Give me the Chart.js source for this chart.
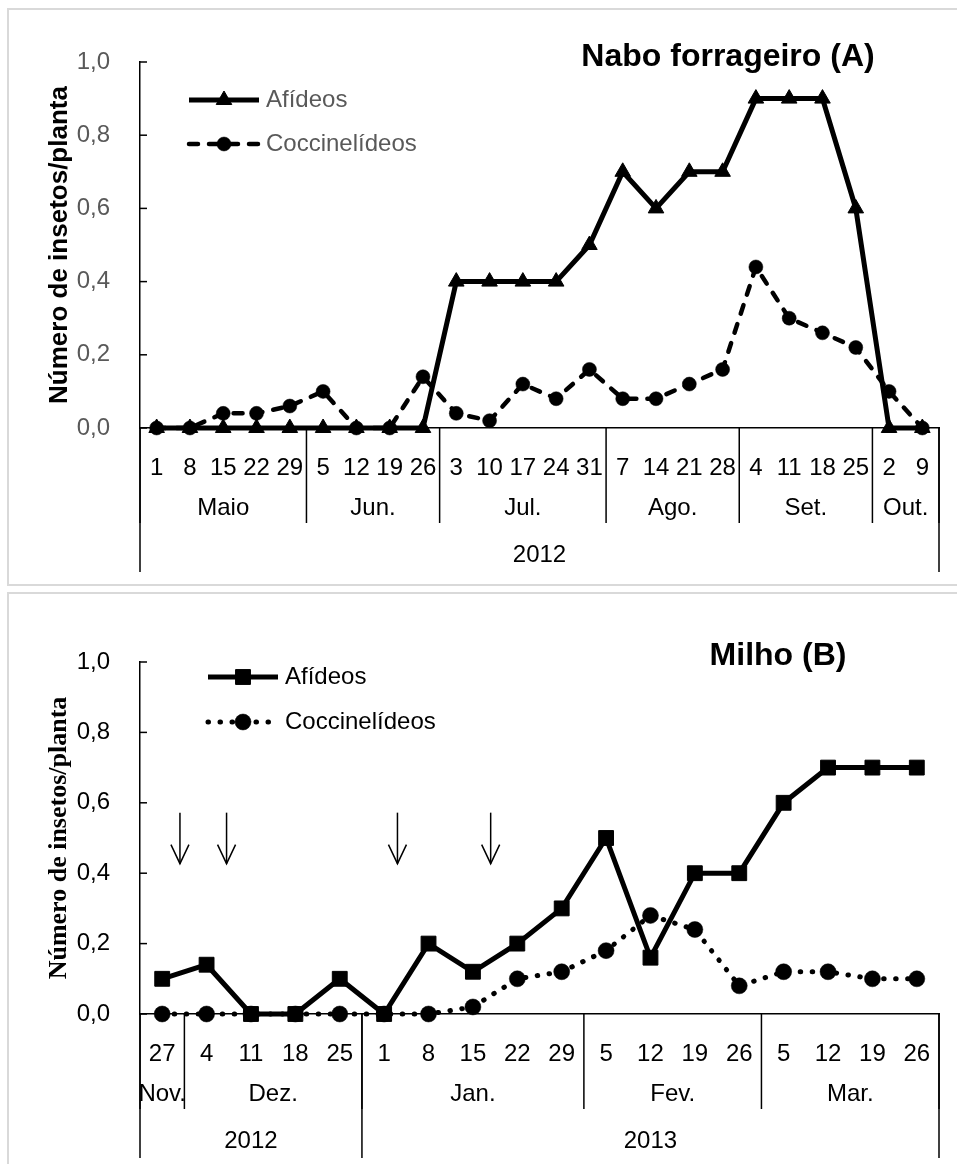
<!DOCTYPE html>
<html>
<head>
<meta charset="utf-8">
<script src="https://cdn.jsdelivr.net/npm/chart.js@4.4.1/dist/chart.umd.min.js"></script>
<style>
  html, body { margin: 0; padding: 0; background: #fff; width: 957px; height: 1164px; overflow: hidden; }
  .panel { position: absolute; border: 2px solid #d9d9d9; box-sizing: border-box; }
  #p1 { left: 7px; top: 8px; width: 1000px; height: 578px; }
  #p2 { left: 7px; top: 592px; width: 1000px; height: 620px; }
  canvas { position: absolute; left: 0; }
  #c1 { top: 0; }
  #c2 { top: 590px; }
</style>
</head>
<body>
<div class="panel" id="p1"></div>
<div class="panel" id="p2"></div>
<canvas id="c1" width="957" height="590"></canvas>
<canvas id="c2" width="957" height="574"></canvas>
<script>
// ---- Nabo forrageiro (A), 2012 ----
const diasA = ['1','8','15','22','29','5','12','19','26','3','10','17','24','31','7','14','21','28','4','11','18','25','2','9'];
const afideosA = [0,0,0,0,0,0,0,0,0,0.4,0.4,0.4,0.4,0.5,0.7,0.6,0.7,0.7,0.9,0.9,0.9,0.6,0,0];
const coccinelideosA = [0,0,0.04,0.04,0.06,0.10,0,0,0.14,0.04,0.02,0.12,0.08,0.16,0.08,0.08,0.12,0.16,0.44,0.30,0.26,0.22,0.10,0];
const mesesA = ['Maio','Jun.','Jul.','Ago.','Set.','Out.'];
const semanasPorMesA = [5,4,5,4,4,2];
const anosA = ['2012'];
const semanasPorAnoA = [24];

// ---- Milho (B), 2012/2013 ----
const diasB = ['27','4','11','18','25','1','8','15','22','29','5','12','19','26','5','12','19','26'];
const afideosB = [0.10,0.14,0,0,0.10,0,0.20,0.12,0.20,0.30,0.50,0.16,0.40,0.40,0.60,0.70,0.70,0.70];
const coccinelideosB = [0,0,0,0,0,0,0,0.02,0.10,0.12,0.18,0.28,0.24,0.08,0.12,0.12,0.10,0.10];
const mesesB = ['Nov.','Dez.','Jan.','Fev.','Mar.'];
const semanasPorMesB = [1,4,5,4,4];
const anosB = ['2012','2013'];
const semanasPorAnoB = [5,13];
// application dates, as positions along the week axis (between sampling weeks)
const aplicacoesB = [0.4, 1.45, 5.3, 7.4];

const yTickLabels = ['0,0','0,2','0,4','0,6','0,8','1,0'];

const SANS = '"Liberation Sans", Arial, sans-serif';
const SERIF = '"Liberation Serif", "Times New Roman", serif';
Chart.defaults.font.family = SANS;

function marker(ctx, style, r, x, y, bw) {
  ctx.beginPath();
  if (style === 'triangle') {
    const a = 2 * Math.PI / 3;
    ctx.moveTo(x, y - r);
    ctx.lineTo(x + r * Math.sin(a), y - r * Math.cos(a));
    ctx.lineTo(x + r * Math.sin(2 * a), y - r * Math.cos(2 * a));
    ctx.closePath();
  } else if (style === 'rect') {
    const s = r * Math.SQRT1_2;
    ctx.rect(x - s, y - s, 2 * s, 2 * s);
  } else {
    ctx.arc(x, y, r, 0, 2 * Math.PI);
  }
  ctx.fill();
  if (bw > 0) ctx.stroke();
}

// Inner tick marks, month/year label rows, legend, panel title and arrows
const decor = {
  id: 'decor',
  afterDraw(chart, args, o) {
    const { ctx, chartArea: area, scales: { x, y } } = chart;
    ctx.save();
    ctx.strokeStyle = '#000';
    ctx.lineWidth = 1.5;

    y.ticks.forEach(t => {
      const py = y.getPixelForValue(t.value);
      ctx.beginPath(); ctx.moveTo(area.left, py); ctx.lineTo(area.left + 7, py); ctx.stroke();
    });

    const edge = i => x.getPixelForValue(i - 0.5);
    const base = area.bottom;
    ctx.fillStyle = '#000';
    ctx.font = '24px ' + SANS;
    ctx.textAlign = 'center';
    ctx.textBaseline = 'middle';
    const drawRow = (names, spans, labelDy, lineDy) => {
      let i = 0;
      ctx.beginPath(); ctx.moveTo(edge(0), base); ctx.lineTo(edge(0), base + lineDy); ctx.stroke();
      names.forEach((name, k) => {
        const a = edge(i), b = edge(i + spans[k]);
        ctx.fillText(name, (a + b) / 2, base + labelDy);
        ctx.beginPath(); ctx.moveTo(b, base); ctx.lineTo(b, base + lineDy); ctx.stroke();
        i += spans[k];
      });
    };
    drawRow(o.months, o.monthSpans, 80, 95);
    drawRow(o.years, o.yearSpans, 127, 144);

    // legend
    const L = o.legend;
    chart.data.datasets.forEach((ds, k) => {
      const ly = L.y + k * L.dy;
      ctx.save();
      ctx.strokeStyle = ds.borderColor;
      ctx.lineWidth = ds.borderWidth;
      ctx.setLineDash(ds.borderDash || []);
      ctx.lineCap = ds.borderCapStyle || 'butt';
      ctx.beginPath(); ctx.moveTo(L.x1, ly); ctx.lineTo(L.x2, ly); ctx.stroke();
      ctx.setLineDash([]);
      ctx.fillStyle = ds.pointBackgroundColor;
      ctx.strokeStyle = ds.pointBorderColor;
      ctx.lineWidth = ds.pointBorderWidth;
      marker(ctx, ds.pointStyle, ds.pointRadius, (L.x1 + L.x2) / 2, ly, ds.pointBorderWidth);
      ctx.fillStyle = L.color;
      ctx.font = '24px ' + SANS;
      ctx.textAlign = 'left';
      ctx.textBaseline = 'middle';
      ctx.fillText(ds.label, L.textX, ly);
      ctx.restore();
    });

    // panel title
    ctx.fillStyle = '#000';
    ctx.font = 'bold 32px ' + SANS;
    ctx.textAlign = 'center';
    ctx.textBaseline = 'middle';
    ctx.fillText(o.title, o.titleX, o.titleY);

    // application arrows
    if (o.arrows) {
      ctx.lineWidth = 1.5;
      ctx.strokeStyle = '#000';
      o.arrows.at.forEach(pos => {
        const ax = x.getPixelForValue(pos);
        const y1 = y.getPixelForValue(o.arrows.from);
        const y2 = y.getPixelForValue(o.arrows.to);
        ctx.beginPath(); ctx.moveTo(ax, y1); ctx.lineTo(ax, y2); ctx.stroke();
        ctx.beginPath(); ctx.moveTo(ax - 9, y2 - 19); ctx.lineTo(ax, y2); ctx.lineTo(ax + 9, y2 - 19); ctx.stroke();
      });
    }
    ctx.restore();
  }
};

function makeChart(id, cfg) {
  return new Chart(document.getElementById(id), {
    type: 'line',
    data: { labels: cfg.labels, datasets: cfg.datasets },
    options: {
      responsive: false,
      animation: false,
      events: [],
      layout: { padding: { top: cfg.top, right: 18, left: 0, bottom: 0 } },
      plugins: {
        legend: { display: false },
        tooltip: { enabled: false },
        decor: cfg.decor
      },
      scales: {
        x: {
          type: 'category',
          offset: true,
          grid: { display: false },
          border: { display: true, color: '#000', width: 1.5 },
          ticks: { autoSkip: false, maxRotation: 0, minRotation: 0, color: '#000', font: { size: 24 }, padding: 18 },
          afterFit(s) { s.height = cfg.xHeight; }
        },
        y: {
          min: 0, max: 1,
          grid: { display: false },
          border: { display: true, color: '#000', width: 1.5 },
          ticks: {
            stepSize: 0.2,
            color: cfg.yTickColor,
            font: { size: 24 },
            padding: 22,
            callback: v => yTickLabels[Math.round(v * 5)]
          },
          title: {
            display: true,
            text: 'Número de insetos/planta',
            color: '#000',
            font: { size: 26, weight: 'bold', family: cfg.titleFamily },
            padding: { top: 44, bottom: 0 }
          },
          afterFit(s) { s.width = 140; }
        }
      }
    },
    plugins: [decor]
  });
}

makeChart('c1', {
  labels: diasA,
  top: 62,
  xHeight: 162,
  yTickColor: '#595959',
  titleFamily: SANS,
  datasets: [
    {
      label: 'Afídeos', data: afideosA,
      borderColor: '#000', borderWidth: 5, tension: 0, clip: false,
      pointStyle: 'triangle', pointRadius: 9, pointBackgroundColor: '#000', pointBorderColor: '#000', pointBorderWidth: 1
    },
    {
      label: 'Coccinelídeos', data: coccinelideosA,
      borderColor: '#000', borderWidth: 4.5, borderDash: [9, 11], borderCapStyle: 'round', tension: 0, clip: false,
      pointStyle: 'circle', pointRadius: 7, pointBackgroundColor: '#000', pointBorderColor: '#000', pointBorderWidth: 0.5
    }
  ],
  decor: {
    months: mesesA, monthSpans: semanasPorMesA,
    years: anosA, yearSpans: semanasPorAnoA,
    legend: { x1: 189, x2: 259, textX: 266, y: 100, dy: 44, color: '#595959' },
    title: 'Nabo forrageiro (A)', titleX: 728, titleY: 57
  }
});

makeChart('c2', {
  labels: diasB,
  top: 72,
  xHeight: 150,
  yTickColor: '#000',
  titleFamily: SERIF,
  datasets: [
    {
      label: 'Afídeos', data: afideosB,
      borderColor: '#000', borderWidth: 5, tension: 0, clip: false,
      pointStyle: 'rect', pointRadius: 10.5, pointBackgroundColor: '#000', pointBorderColor: '#000', pointBorderWidth: 1
    },
    {
      label: 'Coccinelídeos', data: coccinelideosB,
      borderColor: '#000', borderWidth: 5, borderDash: [0.5, 11.5], borderCapStyle: 'round', tension: 0, clip: false,
      pointStyle: 'circle', pointRadius: 8, pointBackgroundColor: '#000', pointBorderColor: '#000', pointBorderWidth: 0.5
    }
  ],
  decor: {
    months: mesesB, monthSpans: semanasPorMesB,
    years: anosB, yearSpans: semanasPorAnoB,
    legend: { x1: 208, x2: 278, textX: 285, y: 87, dy: 45, color: '#000' },
    title: 'Milho (B)', titleX: 778, titleY: 66,
    arrows: { at: aplicacoesB, from: 0.572, to: 0.427 }
  }
});
</script>
</body>
</html>
